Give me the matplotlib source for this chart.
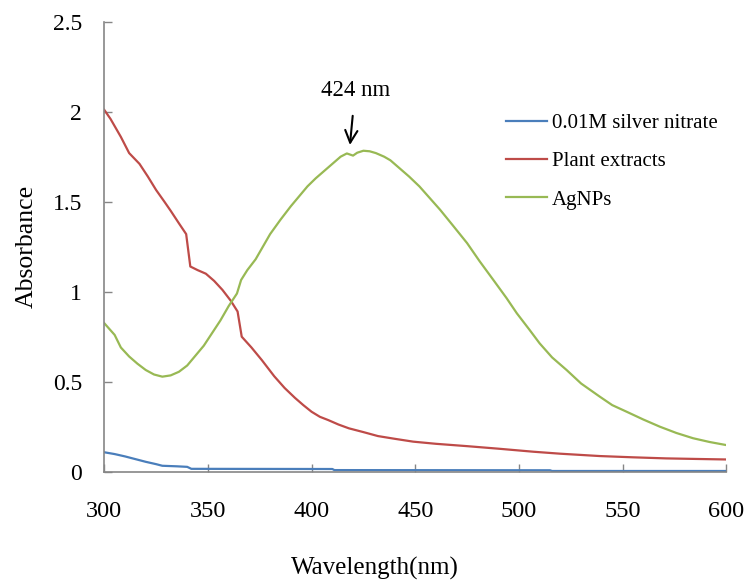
import matplotlib
matplotlib.use("Agg")
import matplotlib.pyplot as plt

plt.rcParams['font.family'] = ['Liberation Serif', 'DejaVu Serif']

# 0.01M silver nitrate
wl_agno3 = [300, 305, 310, 315, 320, 325, 328, 335, 340, 342, 410, 411, 515, 516, 600]
abs_agno3 = [0.108, 0.098, 0.085, 0.070, 0.055, 0.042, 0.033, 0.030, 0.027, 0.016,
             0.015, 0.009, 0.008, 0.004, 0.004]

# plant extracts
wl_plant = [300, 303, 308, 312, 317, 321, 325, 329, 332, 336, 339.5, 341.5, 345, 349,
            353, 357, 361, 364.3, 366.3, 371, 376, 382, 387, 392, 396, 400, 404, 408,
            413, 418, 425, 432, 440, 449, 460, 475, 490, 507, 520, 539, 555, 571, 585, 600]
abs_plant = [2.01, 1.96, 1.86, 1.77, 1.71, 1.64, 1.565, 1.50, 1.45, 1.38, 1.32, 1.14,
             1.12, 1.10, 1.06, 1.01, 0.95, 0.89, 0.75, 0.69, 0.62, 0.53, 0.465, 0.41,
             0.37, 0.333, 0.305, 0.287, 0.262, 0.241, 0.22, 0.198, 0.183, 0.167, 0.155,
             0.142, 0.128, 0.111, 0.100, 0.087, 0.080, 0.074, 0.071, 0.068]

# AgNPs
wl_agnp = [300, 305, 308, 312, 316, 320, 324, 328, 332, 336, 340, 344, 348, 352, 356,
           360, 364, 366, 369, 373, 377, 380, 385, 390, 394, 398, 402, 406, 410, 414,
           417, 420, 422, 425, 428, 431, 435, 438, 442, 447, 452, 457, 462, 468, 475,
           481, 488, 494, 499, 505, 510, 516, 523, 530, 539, 545, 552, 560, 568, 576,
           584, 592, 600]
abs_agnp = [0.825, 0.76, 0.69, 0.64, 0.60, 0.565, 0.54, 0.528, 0.535, 0.555, 0.59, 0.645,
            0.70, 0.77, 0.84, 0.92, 0.99, 1.065, 1.12, 1.18, 1.26, 1.32, 1.40, 1.475,
            1.53, 1.585, 1.63, 1.67, 1.71, 1.75, 1.768, 1.756, 1.772, 1.783, 1.78, 1.77,
            1.75, 1.73, 1.69, 1.64, 1.585, 1.52, 1.455, 1.37, 1.27, 1.17, 1.06, 0.965,
            0.88, 0.79, 0.713, 0.635, 0.565, 0.49, 0.417, 0.37, 0.333, 0.29, 0.25, 0.215,
            0.186, 0.165, 0.148]

labels = ['0.01M silver nitrate', 'Plant extracts', 'AgNPs']
colors = ['#4A7EBB', '#BE4B48', '#98B954']

peak_wl = 424

fig = plt.figure(figsize=(7.48, 5.81), dpi=100)
ax = fig.add_axes([0.1394, 0.1881, 0.8315, 0.7746])

ax.plot(wl_agno3, abs_agno3, color=colors[0], lw=1.6, label=labels[0])
ax.plot(wl_plant, abs_plant, color=colors[1], lw=1.6, label=labels[1])
ax.plot(wl_agnp, abs_agnp, color=colors[2], lw=1.6, label=labels[2])

ax.set_xlim(300, 600)
ax.set_ylim(0, 2.5)
ax.set_xticks(range(300, 601, 50))
ax.set_yticks([0, 0.5, 1, 1.5, 2, 2.5])
ax.set_yticklabels(['0', '0.5', '1', '1.5', '2', '2.5'])

# excel-like frame: grey left/bottom axes, inward ticks
for s in ['top', 'right']:
    ax.spines[s].set_visible(False)
for s in ['left', 'bottom']:
    ax.spines[s].set_color('#868686')
    ax.spines[s].set_linewidth(1.2)
ax.tick_params(axis='x', direction='in', length=5.5, width=1, color='#868686',
               labelsize=17.5, pad=21)
ax.tick_params(axis='y', direction='in', length=5.5, width=1, color='#868686',
               labelsize=17, pad=16)

ax.set_xlabel('Wavelength(nm)', fontsize=18)
ax.xaxis.set_label_coords(0.435, -0.19)
ax.set_ylabel('Absorbance', fontsize=18.5, labelpad=11)

ax.annotate(f'{peak_wl} nm', xy=(418.5, 1.815), xytext=(421, 2.12),
            ha='center', va='center', fontsize=16.5,
            arrowprops=dict(arrowstyle='->', color='black', lw=1.5,
                            mutation_scale=22, shrinkA=9, shrinkB=0))

ax.legend(loc='upper left', bbox_to_anchor=(0.632, 0.815), frameon=False,
          fontsize=15, handlelength=2.0, handletextpad=0.2, labelspacing=0.9,
          borderaxespad=0)

fig.savefig('out.png', dpi=100)
